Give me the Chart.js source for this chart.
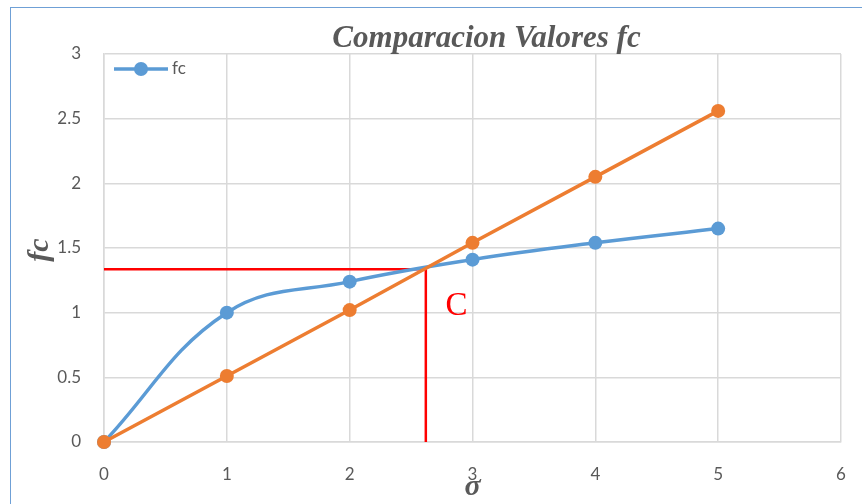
<!DOCTYPE html>
<html>
<head>
<meta charset="utf-8">
<script src="https://cdn.jsdelivr.net/npm/chart.js@4.4.1/dist/chart.umd.min.js"></script>
<style>
  html, body { margin: 0; padding: 0; background: #fff; overflow: hidden; }
  #frame { position: absolute; left: 10px; top: 7px; width: 900px; height: 600px; border: 1.5px solid #6FA0D6; }
  #wrap { position: absolute; left: 0; top: 0; width: 862px; height: 504px; }
</style>
</head>
<body>
<div id="frame"></div>
<div id="wrap"><canvas id="fcChart" width="862" height="504"></canvas></div>
<script>
// Values
const sigmaValues = [0, 1, 2, 3, 4, 5];
const fcValues = [0, 1.0, 1.24, 1.41, 1.54, 1.65];
const lineValues = [0, 0.51, 1.02, 1.54, 2.05, 2.56];
const guideX = [0, 2.62, 2.62];
const guideY = [1.335, 1.335, 0];
const xTicks = [0, 1, 2, 3, 4, 5, 6];
const yTicks = [0, 0.5, 1, 1.5, 2, 2.5, 3];
const titleText = 'Comparacion Valores fc';
const xTitle = '\u03C3';
const yTitle = 'fc';
const pointLabel = { text: 'C', x: 2.87, y: 0.98 };

const BLUE = '#5B9BD5';
const ORANGE = '#ED7D31';
const GREY = '#595959';

// Pair x and y arrays into point objects
function toPoints(xs, ys) {
    return xs.map((x, i) => ({ x: x, y: ys[i] }));
}

// Draws the title, axis titles, the inside legend and the "C" label
const overlayPlugin = {
    id: 'overlay',
    afterDatasetsDraw(chart) {
        const { ctx, chartArea, scales } = chart;
        ctx.save();

        // "C" label in red
        ctx.fillStyle = '#FF0000';
        ctx.font = '33px "Liberation Serif"';
        ctx.textAlign = 'center';
        ctx.textBaseline = 'alphabetic';
        ctx.fillText(pointLabel.text, scales.x.getPixelForValue(pointLabel.x), scales.y.getPixelForValue(pointLabel.y));

        // legend inside the plot (only the fc series)
        const ds = chart.data.datasets[1];
        const lx = chartArea.left + 10, ly = chartArea.top + 15;
        ctx.strokeStyle = ds.borderColor;
        ctx.lineWidth = 3.5;
        ctx.beginPath();
        ctx.moveTo(lx, ly);
        ctx.lineTo(lx + 54, ly);
        ctx.stroke();
        ctx.fillStyle = ds.backgroundColor;
        ctx.beginPath();
        ctx.arc(lx + 27, ly, 7, 0, Math.PI * 2);
        ctx.fill();
        ctx.fillStyle = GREY;
        ctx.font = '17px Lato';
        ctx.textAlign = 'left';
        ctx.textBaseline = 'middle';
        ctx.fillText(ds.label, lx + 58, ly);

        // chart title
        ctx.font = 'italic bold 31px "Liberation Serif"';
        ctx.textAlign = 'center';
        ctx.textBaseline = 'alphabetic';
        ctx.fillText(titleText, (chartArea.left + chartArea.right) / 2 + 14, 47);

        // x axis title
        ctx.font = 'italic bold 30px "Liberation Serif"';
        ctx.fillText(xTitle, scales.x.getPixelForValue(3), 495);

        // y axis title, rotated
        ctx.translate(48, (chartArea.top + chartArea.bottom) / 2 + 2);
        ctx.rotate(-Math.PI / 2);
        ctx.fillText(yTitle, 0, 0);

        ctx.restore();
    }
};

const ctx = document.getElementById('fcChart').getContext('2d');

new Chart(ctx, {
    type: 'scatter',
    data: {
        datasets: [
            {
                label: 'linea',
                data: toPoints(sigmaValues, lineValues),
                showLine: true,
                borderColor: ORANGE,
                backgroundColor: ORANGE,
                borderWidth: 3.5,
                pointRadius: 7,
                pointBorderWidth: 0,
                clip: false,
                order: 1
            },
            {
                label: 'fc',
                data: toPoints(sigmaValues, fcValues),
                showLine: true,
                tension: 0.4,
                borderColor: BLUE,
                backgroundColor: BLUE,
                borderWidth: 3.5,
                pointRadius: 7,
                pointBorderWidth: 0,
                clip: false,
                order: 2
            },
            {
                label: 'C',
                data: toPoints(guideX, guideY),
                showLine: true,
                borderColor: '#FF0000',
                backgroundColor: '#FF0000',
                borderWidth: 2.5,
                pointRadius: 0,
                order: 3
            }
        ]
    },
    options: {
        responsive: false,
        animation: false,
        layout: { padding: { left: 0, top: 54, right: 21, bottom: 0 } },
        plugins: {
            legend: { display: false },
            tooltip: { enabled: false },
            title: { display: false }
        },
        scales: {
            x: {
                type: 'linear',
                min: 0,
                max: 6,
                afterBuildTicks: scale => { scale.ticks = xTicks.map(v => ({ value: v })); },
                afterFit: scale => {
                    scale.height = 62;
                    scale.paddingLeft = 0;
                    scale.paddingRight = 0;
                },
                grid: { color: '#D9D9D9', lineWidth: 1.5, drawTicks: false },
                border: { color: '#D9D9D9', width: 1.5 },
                ticks: { color: GREY, font: { family: 'Lato', size: 17 }, padding: 22, callback: v => String(v) }
            },
            y: {
                type: 'linear',
                min: 0,
                max: 3,
                afterBuildTicks: scale => { scale.ticks = yTicks.map(v => ({ value: v })); },
                afterFit: scale => {
                    scale.width = 104;
                    scale.paddingTop = 0;
                    scale.paddingBottom = 0;
                },
                grid: { color: '#D9D9D9', lineWidth: 1.5, drawTicks: false },
                border: { color: '#D9D9D9', width: 1.5 },
                ticks: { color: GREY, font: { family: 'Lato', size: 17 }, padding: 23, callback: v => String(v) }
            }
        }
    },
    plugins: [overlayPlugin]
});
</script>
</body>
</html>
